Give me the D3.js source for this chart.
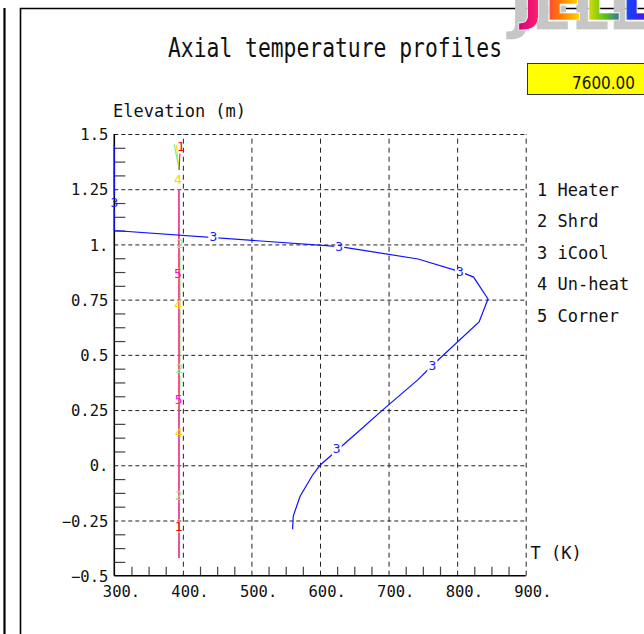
<!DOCTYPE html>
<html>
<head>
<meta charset="utf-8">
<script src="https://cdn.jsdelivr.net/npm/d3@7"></script>
<style>
  body { margin: 0; background: #fff; }
  svg { display: block; }
</style>
</head>
<body>
<svg id="chart" width="644" height="634"></svg>
<script>
// ---- data ----------------------------------------------------------------
const tempTicks = [300, 400, 500, 600, 700, 800, 900];
const elevTicks = [-0.5, -0.25, 0, 0.25, 0.5, 0.75, 1, 1.25, 1.5];
const timeValue = "7600.00";

// Heater (1)
const heaterElev = [1.45, 1.40, 1.337, NaN, 1.25, 1.0, 0.5, 0.0, -0.42];
const heaterTemp = [396.5, 395.5, 394.6, NaN, 394.3, 394.3, 394.4, 394.4, 394.4];
const heaterLabelElev = [1.443, -0.275];
const heaterLabelTemp = [397.3, 393.9];

// Shrd (2)
const shrdElev = [1.453, 1.337, NaN, 1.25, 1.05, 0.95, 0.36, 0.30, -0.42];
const shrdTemp = [387.4, 394.7, NaN, 394.4, 394.6, 395.8, 395.8, 394.6, 394.6];
const shrdLabelElev = [1.006, 0.436, -0.137];
const shrdLabelTemp = [395.8, 394.8, 393.9];

// iCool (3)
const icoolElev = [1.45, 1.063, 0.99, 0.934, 0.877, 0.852, 0.753, 0.649, 0.453, 0.388, 0.252, 0.147, 0.0, -0.045, -0.14, -0.23, -0.29];
const icoolTemp = [300, 300, 629, 743, 804, 824, 845, 832, 764, 743, 692, 654, 600, 589, 571, 561, 560];
const icoolLabelElev = [1.188, 1.036, 0.990, 0.877, 0.453, 0.076];
const icoolLabelTemp = [300, 444.4, 628, 804.2, 763.8, 624.4];

// Un-heat (4)
const unheatElev = [1.45, 1.337, NaN, 1.25, 0.5, -0.42];
const unheatTemp = [390.5, 394.5, NaN, 394.2, 394.2, 394.2];
const unheatLabelElev = [1.292, 0.727, 0.150];
const unheatLabelTemp = [392.9, 393.3, 394.4];

// Corner (5)
const cornerElev = [1.25, 0.5, -0.42];
const cornerTemp = [394.0, 394.0, 394.0];
const cornerLabelElev = [0.867, 0.297];
const cornerLabelTemp = [392.9, 393.9];

const seriesNames = ["Heater", "Shrd", "iCool", "Un-heat", "Corner"];

// ---- setup ---------------------------------------------------------------
const MONO = "'DejaVu Sans Mono', monospace";
const svg = d3.select("#chart");

const x = d3.scaleLinear().domain([300, 900]).range([114.3, 525.7]);
const y = d3.scaleLinear().domain([-0.5, 1.5]).range([575.7, 134]);
const plotH = y(-0.5) - y(1.5);
const plotW = x(900) - x(300);

// panel frames
svg.append("line").attr("x1", 4.5).attr("y1", 8).attr("x2", 4.5).attr("y2", 634)
  .attr("stroke", "#000").attr("stroke-width", 2.2);
svg.append("path").attr("d", "M20.5,634V8.5H644")
  .attr("fill", "none").attr("stroke", "#000").attr("stroke-width", 1.6);

// logo in the upper-right corner, with an extruded grey shadow
const defs = svg.append("defs");
const grad = defs.append("linearGradient").attr("id", "logoGrad")
  .attr("x1", 0).attr("x2", 1).attr("y1", 0).attr("y2", 0);
[["0%", "#d4007e"], ["14%", "#ff1f6a"], ["30%", "#ff7a00"], ["46%", "#ffe600"],
 ["62%", "#5cc21a"], ["80%", "#1a3cff"], ["100%", "#6a00d0"]]
  .forEach(([o, c]) => grad.append("stop").attr("offset", o).attr("stop-color", c));
const shadow = defs.append("filter").attr("id", "logoShadow")
  .attr("x", "-30%").attr("y", "-30%").attr("width", "160%").attr("height", "180%");
shadow.append("feOffset").attr("in", "SourceAlpha").attr("dx", -12).attr("dy", 9).attr("result", "off");
shadow.append("feFlood").attr("flood-color", "#c6c6c6").attr("result", "grey");
shadow.append("feComposite").attr("in", "grey").attr("in2", "off").attr("operator", "in").attr("result", "sh");
const merge = shadow.append("feMerge");
merge.append("feMergeNode").attr("in", "sh");
merge.append("feMergeNode").attr("in", "SourceGraphic");
svg.append("text").attr("x", 522).attr("y", 20)
  .attr("font-family", "'DejaVu Sans', sans-serif").attr("font-weight", "bold")
  .attr("font-size", 50).attr("textLength", 136).attr("lengthAdjust", "spacingAndGlyphs")
  .attr("fill", "url(#logoGrad)").attr("stroke", "#fff").attr("stroke-width", 0.6)
  .attr("filter", "url(#logoShadow)").text("JELL");

// title
svg.append("text").attr("x", 168).attr("y", 57)
  .attr("font-family", MONO).attr("font-size", 26)
  .attr("textLength", 334).attr("lengthAdjust", "spacingAndGlyphs")
  .attr("fill", "#111").text("Axial temperature profiles");

// time box
svg.append("rect").attr("x", 527.5).attr("y", 63.5).attr("width", 130).attr("height", 31)
  .attr("fill", "#ffff00").attr("stroke", "#333").attr("stroke-width", 1);
svg.append("text").attr("x", 635).attr("y", 89).attr("text-anchor", "end")
  .attr("font-family", "'DejaVu Sans', sans-serif").attr("font-size", 18)
  .attr("textLength", 63).attr("lengthAdjust", "spacingAndGlyphs")
  .attr("fill", "#111").text(timeValue);

// axis titles
svg.append("text").attr("x", 113).attr("y", 117)
  .attr("font-family", MONO).attr("font-size", 17).attr("fill", "#111").text("Elevation (m)");
svg.append("text").attr("x", 530.5).attr("y", 559)
  .attr("font-family", MONO).attr("font-size", 17).attr("fill", "#111").text("T (K)");

// ---- grid ----------------------------------------------------------------
const gx = svg.append("g").attr("transform", `translate(0,${y(-0.5)})`)
  .call(d3.axisBottom(x).tickValues(tempTicks.slice(1)).tickSize(-plotH).tickFormat(""));
gx.select(".domain").remove();
gx.selectAll("line").attr("stroke", "#222").attr("stroke-dasharray", "5,4");

const gy = svg.append("g").attr("transform", `translate(${x(300)},0)`)
  .call(d3.axisLeft(y).tickValues(elevTicks.slice(1)).tickSize(-plotW).tickFormat(""));
gy.select(".domain").remove();
gy.selectAll("line").attr("stroke", "#222").attr("stroke-dasharray", "4,3");

// minor ticks
const xMinor = d3.range(325, 900, 25).filter(v => v % 100 !== 0);
const yMinor = d3.range(-0.4375, 1.5, 0.0625).filter(v => Math.abs(v / 0.25 - Math.round(v / 0.25)) > 1e-6);
const mx = svg.append("g").attr("transform", `translate(0,${y(-0.5)})`)
  .call(d3.axisBottom(x).tickValues(xMinor).tickSize(-9).tickFormat(""));
mx.select(".domain").remove();
mx.selectAll("line").attr("stroke", "#444").attr("stroke-width", 1.2);
const my = svg.append("g").attr("transform", `translate(${x(300)},0)`)
  .call(d3.axisLeft(y).tickValues(yMinor).tickSize(-11).tickFormat(""));
my.select(".domain").remove();
my.selectAll("line").attr("stroke", "#444").attr("stroke-width", 1.2);

// solid axis lines
svg.append("line").attr("x1", x(300)).attr("x2", x(300)).attr("y1", y(1.5)).attr("y2", y(-0.5))
  .attr("stroke", "#000").attr("stroke-width", 1.6);
svg.append("line").attr("x1", x(300)).attr("x2", x(900)).attr("y1", y(-0.5)).attr("y2", y(-0.5))
  .attr("stroke", "#000").attr("stroke-width", 1.6);

// tick labels
const fmtElev = d => {
  const a = Math.abs(d);
  const s = Number.isInteger(a) ? a + "." : String(a);
  return (d < 0 ? "\u2212" : "") + s;
};
const ly = svg.append("g").attr("transform", `translate(${x(300)},0)`)
  .call(d3.axisLeft(y).tickValues(elevTicks).tickSize(0).tickPadding(6).tickFormat(fmtElev));
ly.select(".domain").remove();
ly.attr("font-family", MONO).attr("font-size", 15.5);
ly.selectAll("text").attr("fill", "#111").attr("dy", "0.36em");

const lx = svg.append("g").attr("transform", `translate(0,${y(-0.5)})`)
  .call(d3.axisBottom(x).tickValues(tempTicks).tickSize(0).tickFormat(d => d + "."));
lx.select(".domain").remove();
lx.attr("font-family", MONO).attr("font-size", 15.5);
lx.selectAll("text").attr("fill", "#111").attr("text-anchor", "start")
  .attr("x", -12).attr("y", 21).attr("dy", 0);

// ---- series --------------------------------------------------------------
const series = [
  { id: 4, color: "#f2e400", labelColor: "#f0d800", elev: unheatElev, temp: unheatTemp, le: unheatLabelElev, lt: unheatLabelTemp, op: 1, w: 1.1 },
  { id: 2, color: "#7fe87f", labelColor: "#8cef8c", elev: shrdElev, temp: shrdTemp, le: shrdLabelElev, lt: shrdLabelTemp, op: 1, w: 1.1 },
  { id: 1, color: "#e8205a", labelColor: "#ff0000", elev: heaterElev, temp: heaterTemp, le: heaterLabelElev, lt: heaterLabelTemp, op: 1, w: 1.1 },
  { id: 5, color: "#ff00ff", labelColor: "#ff00ff", elev: cornerElev, temp: cornerTemp, le: cornerLabelElev, lt: cornerLabelTemp, op: 0.45, w: 1.1 },
  { id: 3, color: "#1010ff", labelColor: "#1a1aff", elev: icoolElev, temp: icoolTemp, le: icoolLabelElev, lt: icoolLabelTemp, op: 1, w: 1.2 }
];

const line = d3.line()
  .defined(d => !isNaN(d[0]) && !isNaN(d[1]))
  .x(d => x(d[0])).y(d => y(d[1]));

series.forEach(s => {
  // cut the curve where its own labels sit
  const m = defs.append("mask").attr("id", "gap" + s.id).attr("maskUnits", "userSpaceOnUse")
    .attr("x", 0).attr("y", 0).attr("width", 644).attr("height", 634);
  m.append("rect").attr("width", 644).attr("height", 634).attr("fill", "#fff");
  s.le.forEach((e, i) => {
    m.append("rect").attr("x", x(s.lt[i]) - 5).attr("y", y(e) - 7)
      .attr("width", 10).attr("height", 14).attr("fill", "#000");
  });
  const pts = s.temp.map((t, i) => [t, s.elev[i]]);
  svg.append("path").datum(pts).attr("d", line)
    .attr("fill", "none").attr("stroke", s.color).attr("stroke-width", s.w)
    .attr("stroke-opacity", s.op).attr("mask", `url(#gap${s.id})`);
});

series.forEach(s => {
  svg.append("g").selectAll("text").data(s.le.map((e, i) => [s.lt[i], e]))
    .join("text")
    .attr("x", d => x(d[0])).attr("y", d => y(d[1]) + 4.5)
    .attr("text-anchor", "middle")
    .attr("font-family", MONO).attr("font-size", 13)
    .attr("fill", s.labelColor).text(s.id);
});

// ---- legend --------------------------------------------------------------
svg.append("g").selectAll("text").data(seriesNames).join("text")
  .attr("x", 537).attr("y", (d, i) => 195.5 + i * 31.5)
  .attr("font-family", MONO).attr("font-size", 17).attr("fill", "#111")
  .attr("xml:space", "preserve")
  .text((d, i) => (i + 1) + " " + d);
</script>
</body>
</html>
